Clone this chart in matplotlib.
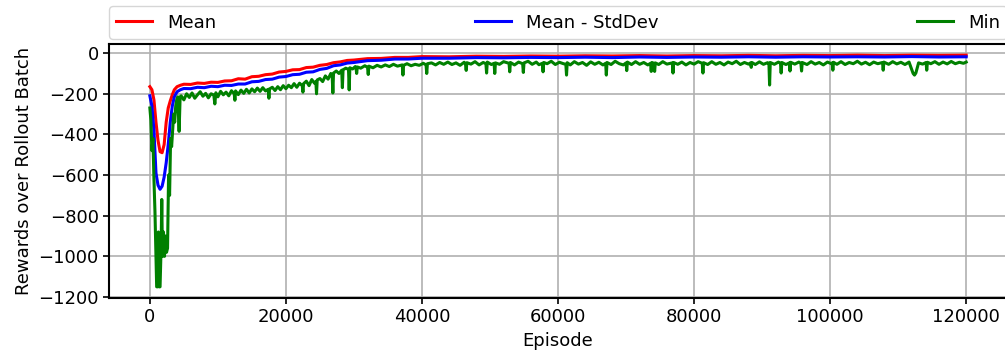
import matplotlib
matplotlib.use('Agg')
import matplotlib.pyplot as plt

# episode grid for the two smoother curves
episodes = [0, 300, 600, 900, 1200, 1500, 1800, 2100, 2400, 2700, 3000, 3300, 3600, 4000,
            4500, 5000, 6000, 7000, 8000, 9000, 10000, 11000, 12000, 13000, 14000, 15000,
            16000, 17000, 18000, 19000, 20000, 21000, 22000, 23000, 24000, 25000, 26000,
            27000, 28000, 29000, 30000, 32000, 34000, 36000, 38000, 40000, 44000, 48000,
            52000, 56000, 60000, 64000, 68000, 72000, 76000, 80000, 84000, 88000, 92000,
            96000, 100000, 104000, 108000, 112000, 116000, 120000]

mean_reward = [-165, -180, -230, -340, -430, -485, -490, -450, -340, -270, -235, -205, -180, -165,
               -158, -153, -154, -147, -149, -143, -144, -137, -136, -126, -128, -116,
               -114, -106, -103, -93, -90, -82, -81, -71, -69, -60, -56,
               -47, -43, -36, -34, -27, -26, -21, -21, -17, -18, -15,
               -16, -14, -15, -13, -14, -12, -14, -12, -13, -11, -13,
               -11, -12, -10, -12, -10, -11, -10]

mean_minus_std = [-210, -260, -380, -590, -650, -670, -655, -610, -540, -450, -340, -260, -215, -190,
                  -180, -174, -175, -168, -170, -163, -165, -158, -159, -152, -152, -141,
                  -139, -130, -128, -118, -115, -106, -104, -94, -92, -80, -75,
                  -62, -58, -49, -46, -37, -35, -29, -29, -25, -25, -22,
                  -23, -21, -22, -20, -22, -19, -21, -19, -20, -18, -20,
                  -18, -19, -18, -19, -17, -19, -18]

# min reward per batch, noisy with narrow dips
min_episodes = [0, 150, 300, 450, 600, 750, 900, 1000, 1150, 1250,
                1350, 1500, 1650, 1750, 1850, 2000, 2150, 2300, 2450, 2600,
                2750, 2900, 3050, 3200, 3350, 3500, 3650, 3800, 3950, 4100,
                4300, 4450, 4600, 5000, 5400, 5800, 6200, 6600, 7000, 7400,
                7800, 8200, 8600, 9000, 9400, 9550, 9700, 10000, 10400, 10800,
                11200, 11600, 12000, 12400, 12500, 12600, 13000, 13400, 13800, 14200,
                14600, 15000, 15400, 15800, 16200, 16600, 17000, 17400, 17500, 17600,
                18000, 18400, 18800, 19200, 19600, 20000, 20400, 20800, 21200, 21600,
                22000, 22400, 22500, 22600, 23000, 23400, 23800, 24200, 24400, 24500,
                24600, 25000, 25400, 25800, 26200, 26600, 26800, 26900, 27000, 27400,
                27800, 28200, 28300, 28400, 28800, 29200, 29300, 29400, 29800, 30200,
                30300, 30400, 30500, 31000, 31600, 32000, 32100, 32200, 32800, 33400,
                34000, 34600, 35200, 35800, 36400, 37100, 37200, 37300, 37800, 38400,
                39000, 39600, 40200, 40600, 40700, 40800, 41400, 42000, 42600, 43200,
                43800, 44400, 45000, 45600, 46200, 46400, 46500, 46600, 47200, 47800,
                48400, 49000, 49400, 49500, 49600, 50200, 50600, 50700, 50800, 51400,
                52000, 52800, 52900, 53000, 53600, 54200, 54800, 54900, 55000, 55600,
                56200, 56800, 57200, 57700, 57800, 57900, 58400, 59000, 59600, 60200,
                60800, 61150, 61250, 61350, 61800, 62400, 63000, 63600, 64200, 64800,
                65400, 66000, 66600, 67000, 67100, 67200, 67800, 68400, 69000, 69600,
                70000, 70100, 70200, 70800, 71400, 72000, 72600, 73200, 73600, 73700,
                73800, 74100, 74200, 74300, 74800, 75400, 76000, 76800, 76900, 77000,
                77600, 78200, 78800, 79400, 80000, 80600, 81200, 81300, 81400, 82000,
                82600, 83200, 83800, 84400, 85000, 85600, 86200, 86800, 87400, 88000,
                88300, 88400, 88500, 89000, 89600, 90200, 90800, 91000, 91100, 91200,
                91800, 92400, 92700, 92800, 92900, 93500, 94000, 94100, 94200, 94800,
                95400, 95700, 95800, 95900, 96600, 97200, 97800, 98400, 99000, 99600,
                100200, 100300, 100400, 100500, 101000, 101600, 102200, 102800, 103400, 104000,
                104600, 105200, 105800, 106400, 107000, 107700, 107800, 107900, 108600, 109200,
                109800, 110400, 111000, 111600, 112200, 112400, 112600, 113000, 113600, 114100,
                114200, 114300, 114800, 115400, 116000, 116600, 117200, 117800, 118400, 119000,
                119600, 120000]

min_reward = [-270, -330, -480, -420, -620, -780, -1000, -1150, -1150, -880,
              -1150, -1150, -960, -720, -1000, -880, -1000, -900, -980, -960,
              -600, -700, -420, -460, -380, -300, -340, -260, -230, -215,
              -385, -215, -210, -230, -200, -218, -196, -222, -205, -190,
              -212, -198, -220, -200, -206, -250, -195, -215, -188, -205,
              -192, -210, -185, -200, -232, -186, -204, -182, -198, -178,
              -196, -176, -190, -172, -188, -170, -186, -178, -222, -176,
              -168, -184, -165, -180, -160, -175, -158, -170, -150, -168,
              -148, -160, -192, -150, -138, -160, -130, -148, -140, -200,
              -132, -125, -140, -112, -128, -100, -112, -196, -98, -88,
              -100, -84, -170, -82, -74, -80, -181, -72, -78, -66,
              -72, -100, -68, -74, -62, -70, -105, -64, -72, -60,
              -68, -58, -66, -55, -64, -58, -108, -60, -52, -62,
              -55, -60, -50, -58, -100, -52, -48, -58, -46, -55,
              -44, -56, -48, -60, -45, -55, -85, -47, -54, -42,
              -58, -46, -52, -98, -44, -56, -50, -100, -48, -55,
              -42, -50, -92, -46, -58, -44, -52, -95, -48, -40,
              -55, -44, -57, -50, -92, -46, -52, -40, -56, -45,
              -52, -55, -108, -47, -58, -42, -54, -46, -60, -43,
              -55, -45, -58, -50, -108, -46, -56, -40, -52, -58,
              -48, -86, -44, -56, -42, -55, -46, -58, -50, -90,
              -46, -50, -90, -48, -56, -42, -54, -48, -98, -46,
              -55, -44, -58, -46, -54, -42, -50, -98, -47, -56,
              -42, -55, -46, -58, -44, -52, -40, -56, -46, -54,
              -48, -70, -46, -56, -43, -55, -47, -50, -157, -46,
              -55, -44, -50, -98, -46, -56, -48, -88, -45, -54,
              -44, -50, -88, -46, -56, -42, -54, -46, -58, -44,
              -52, -48, -84, -45, -55, -42, -56, -46, -52, -40,
              -54, -45, -57, -44, -52, -46, -84, -44, -55, -42,
              -53, -45, -56, -44, -100, -108, -98, -48, -54, -46,
              -84, -45, -52, -42, -55, -44, -53, -41, -52, -45,
              -50, -44]

fig = plt.figure(figsize=(10.05, 3.6), dpi=100)
ax = fig.add_axes([0.1085, 0.1722, 0.8935, 0.7056])

ax.plot(episodes, mean_reward, color='red', linewidth=2.2, label='Mean')
ax.plot(episodes, mean_minus_std, color='blue', linewidth=2.2, label='Mean - StdDev')
ax.plot(min_episodes, min_reward, color='green', linewidth=2.2, label='Min')

ax.set_xlim(-6000, 126000)
ax.set_ylim(-1205, 45)
ax.set_xticks([0, 20000, 40000, 60000, 80000, 100000, 120000])
ax.set_yticks([0, -200, -400, -600, -800, -1000, -1200])
ax.tick_params(labelsize=13, width=1.2, length=4)
for s in ax.spines.values():
    s.set_linewidth(1.5)

ax.grid(True, color='#b0b0b0', linewidth=1.2)
ax.set_xlabel('Episode', fontsize=13)
ax.set_ylabel('Rewards over Rollout Batch', fontsize=13)

ax.legend(bbox_to_anchor=(0, 1.02, 1, 0.102), loc='lower left', ncol=3,
          mode='expand', borderaxespad=0, fontsize=13)

plt.savefig('out.png', dpi=100)
